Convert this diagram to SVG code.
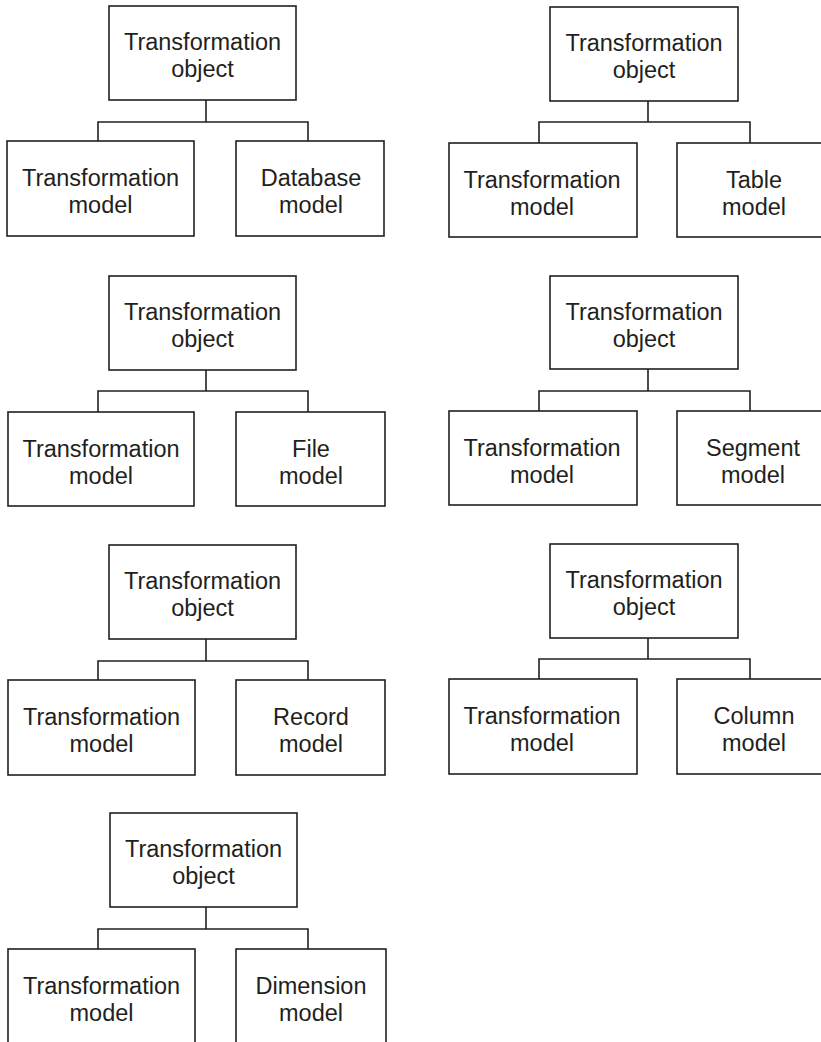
<svg xmlns="http://www.w3.org/2000/svg" width="821" height="1042" viewBox="0 0 821 1042">
  <style>
    .box { fill: #ffffff; stroke: #231f20; stroke-width: 1.6; }
    .link { fill: none; stroke: #231f20; stroke-width: 1.6; }
    .lbl { font-family: "Liberation Sans", Arial, sans-serif; font-size: 23.5px; fill: #231f20; text-anchor: middle; }
  </style>
  <rect width="821" height="1042" fill="#ffffff"/>

  <!-- tree connectors: parent stub, horizontal bar, child drops -->
  <g id="connectors">
    <path class="link" d="M206 100 V122 M98 141 V122 H308 V141"/>
    <path class="link" d="M206 370 V391 M98 412 V391 H308 V412"/>
    <path class="link" d="M206 639 V661 M98 680 V661 H308 V680"/>
    <path class="link" d="M206 907 V929 M98 949 V929 H308 V949"/>
    <path class="link" d="M648 101 V122 M539 143 V122 H750 V143"/>
    <path class="link" d="M648 369 V391 M539 411 V391 H750 V411"/>
    <path class="link" d="M648 638 V659 M539 679 V659 H750 V679"/>
  </g>

  <!-- tree 1: database -->
  <g id="obj-db">
    <rect class="box" x="109" y="6" width="187" height="94"/>
    <text class="lbl" x="202.5" y="50">Transformation</text>
    <text class="lbl" x="202.5" y="77">object</text>
  </g>
  <g id="tm-db">
    <rect class="box" x="7" y="141" width="187" height="95"/>
    <text class="lbl" x="100.5" y="186">Transformation</text>
    <text class="lbl" x="100.5" y="213">model</text>
  </g>
  <g id="database-model">
    <rect class="box" x="236" y="141" width="148" height="95"/>
    <text class="lbl" x="311" y="186">Database</text>
    <text class="lbl" x="311" y="213">model</text>
  </g>

  <!-- tree 2: file -->
  <g id="obj-file">
    <rect class="box" x="109" y="276" width="187" height="94"/>
    <text class="lbl" x="202.5" y="320">Transformation</text>
    <text class="lbl" x="202.5" y="347">object</text>
  </g>
  <g id="tm-file">
    <rect class="box" x="8" y="412" width="186" height="94"/>
    <text class="lbl" x="101" y="457">Transformation</text>
    <text class="lbl" x="101" y="484">model</text>
  </g>
  <g id="file-model">
    <rect class="box" x="236" y="412" width="149" height="94"/>
    <text class="lbl" x="311" y="457">File</text>
    <text class="lbl" x="311" y="484">model</text>
  </g>

  <!-- tree 3: record -->
  <g id="obj-record">
    <rect class="box" x="109" y="545" width="187" height="94"/>
    <text class="lbl" x="202.5" y="589">Transformation</text>
    <text class="lbl" x="202.5" y="616">object</text>
  </g>
  <g id="tm-record">
    <rect class="box" x="8" y="680" width="187" height="95"/>
    <text class="lbl" x="101.5" y="725">Transformation</text>
    <text class="lbl" x="101.5" y="752">model</text>
  </g>
  <g id="record-model">
    <rect class="box" x="236" y="680" width="149" height="95"/>
    <text class="lbl" x="311" y="725">Record</text>
    <text class="lbl" x="311" y="752">model</text>
  </g>

  <!-- tree 4: dimension -->
  <g id="obj-dim">
    <rect class="box" x="110" y="813" width="187" height="94"/>
    <text class="lbl" x="203.5" y="857">Transformation</text>
    <text class="lbl" x="203.5" y="884">object</text>
  </g>
  <g id="tm-dim">
    <rect class="box" x="8" y="949" width="187" height="110"/>
    <text class="lbl" x="101.5" y="994">Transformation</text>
    <text class="lbl" x="101.5" y="1021">model</text>
  </g>
  <g id="dimension-model">
    <rect class="box" x="236" y="949" width="150" height="110"/>
    <text class="lbl" x="311" y="994">Dimension</text>
    <text class="lbl" x="311" y="1021">model</text>
  </g>

  <!-- tree 5: table -->
  <g id="obj-table">
    <rect class="box" x="550" y="7" width="188" height="94"/>
    <text class="lbl" x="644" y="51">Transformation</text>
    <text class="lbl" x="644" y="78">object</text>
  </g>
  <g id="tm-table">
    <rect class="box" x="449" y="143" width="188" height="94"/>
    <text class="lbl" x="542" y="188">Transformation</text>
    <text class="lbl" x="542" y="215">model</text>
  </g>
  <g id="table-model">
    <rect class="box" x="677" y="143" width="160" height="94"/>
    <text class="lbl" x="754" y="188">Table</text>
    <text class="lbl" x="754" y="215">model</text>
  </g>

  <!-- tree 6: segment -->
  <g id="obj-segment">
    <rect class="box" x="550" y="276" width="188" height="93"/>
    <text class="lbl" x="644" y="320">Transformation</text>
    <text class="lbl" x="644" y="347">object</text>
  </g>
  <g id="tm-segment">
    <rect class="box" x="449" y="411" width="188" height="94"/>
    <text class="lbl" x="542" y="456">Transformation</text>
    <text class="lbl" x="542" y="483">model</text>
  </g>
  <g id="segment-model">
    <rect class="box" x="677" y="411" width="160" height="94"/>
    <text class="lbl" x="753" y="456">Segment</text>
    <text class="lbl" x="753" y="483">model</text>
  </g>

  <!-- tree 7: column -->
  <g id="obj-column">
    <rect class="box" x="550" y="544" width="188" height="94"/>
    <text class="lbl" x="644" y="588">Transformation</text>
    <text class="lbl" x="644" y="615">object</text>
  </g>
  <g id="tm-column">
    <rect class="box" x="449" y="679" width="188" height="95"/>
    <text class="lbl" x="542" y="724">Transformation</text>
    <text class="lbl" x="542" y="751">model</text>
  </g>
  <g id="column-model">
    <rect class="box" x="677" y="679" width="160" height="95"/>
    <text class="lbl" x="754" y="724">Column</text>
    <text class="lbl" x="754" y="751">model</text>
  </g>
</svg>
